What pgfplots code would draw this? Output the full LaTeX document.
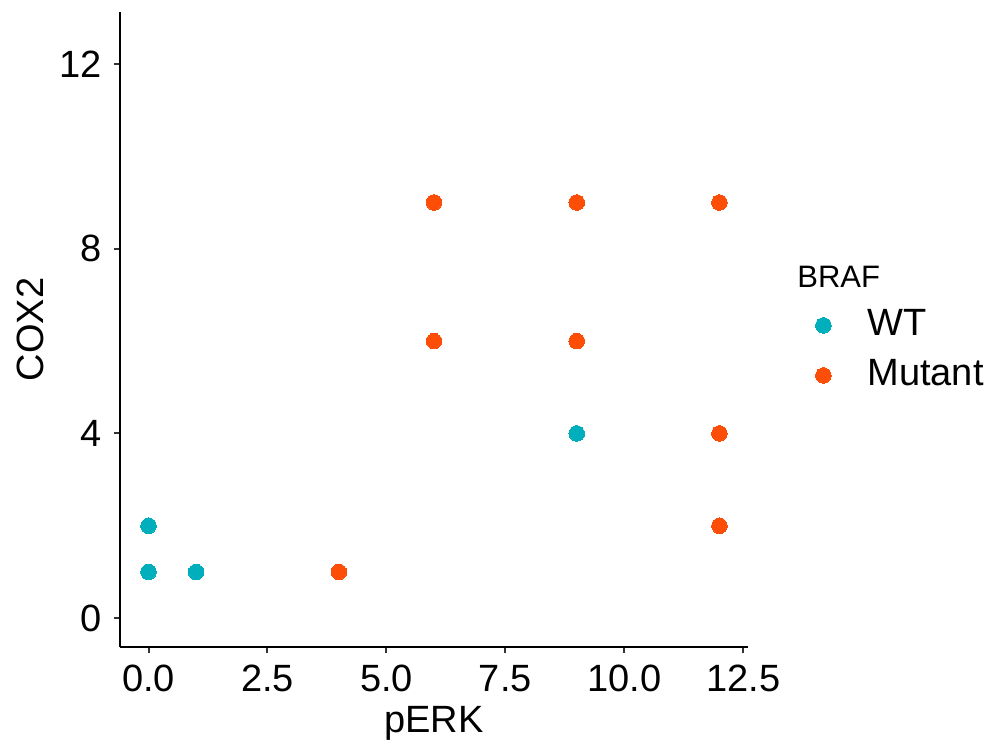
\documentclass[border=0pt]{standalone}
\usepackage{pgfplots}
\pgfplotsset{compat=1.18}
\usepackage{fontspec}
\setmainfont{Liberation Sans}
\definecolor{wtcol}{HTML}{00AFBB}
\definecolor{mutcol}{HTML}{FC4E07}
\begin{document}
\begin{tikzpicture}
\begin{axis}[
  name=ax,
  clip=false,
  scale only axis,
  width=314pt, height=317.5pt,
  xmin=-0.6, xmax=12.6,
  ymin=-0.625, ymax=13.125,
  axis x line*=bottom, axis y line*=left,
  axis line style={-, line width=1pt, black},
  tick align=outside,
  major tick length=3pt,
  every tick/.style={line width=1pt, color=black!80},
  xtick={0,2.5,5,7.5,10,12.5},
  ytick={0,4,8,12},
  xticklabel style={/pgf/number format/fixed, /pgf/number format/fixed zerofill, /pgf/number format/precision=1, inner sep=0pt, yshift=-6pt},
  yticklabel style={inner sep=0pt, xshift=-6pt},
  /pgf/number format/assume math mode=true,
  tick label style={font=\fontsize{19}{19}\selectfont, text=black},
  label style={font=\fontsize{19}{19}\selectfont},
  xlabel={pERK}, ylabel={COX2},
  xlabel style={at={(axis description cs:0.5,-0.1197)}, anchor=center},
  ylabel style={at={(axis description cs:-0.1433,0.5)}, anchor=center},
  legend style={at={(axis description cs:1.0717,0.5354)}, anchor=north west, draw=none, fill=none, inner sep=0pt,
    font=\fontsize{19}{19}\selectfont, row sep=7pt,
    nodes={inner xsep=0pt, inner ysep=0pt, text height=14pt, text depth=4pt}},
  legend cell align=left,
  legend image code/.code={\path[draw=none, fill=none] (0pt,-4pt) rectangle (37pt,4pt); \draw[mark repeat=2,mark phase=2,#1] plot coordinates {(0pt,0pt) (15pt,0pt) (30pt,0pt)};},
]
\addplot[only marks, mark=*, mark size=3.9pt, mark options={draw=wtcol, fill=wtcol, line width=0pt}] coordinates {
(0,2) (0,1) (1,1) (9,4)
};
\addlegendentry{WT}
\addplot[only marks, mark=*, mark size=3.9pt, mark options={draw=mutcol, fill=mutcol, line width=0pt}] coordinates {
(4,1) (6,9) (6,6) (9,9) (9,6) (12,9) (12,4) (12,2)
};
\addlegendentry{Mutant}
\node[anchor=base west, font=\fontsize{15.5}{15.5}\selectfont, inner sep=0pt] at (axis description cs:1.078,0.5669) {BRAF};
\end{axis}
\pgfresetboundingbox
\path[use as bounding box] ([shift={(-60pt,-49.5pt)}]ax.south west) rectangle ([shift={(438pt,323.5pt)}]ax.south west);
\end{tikzpicture}
\end{document}
